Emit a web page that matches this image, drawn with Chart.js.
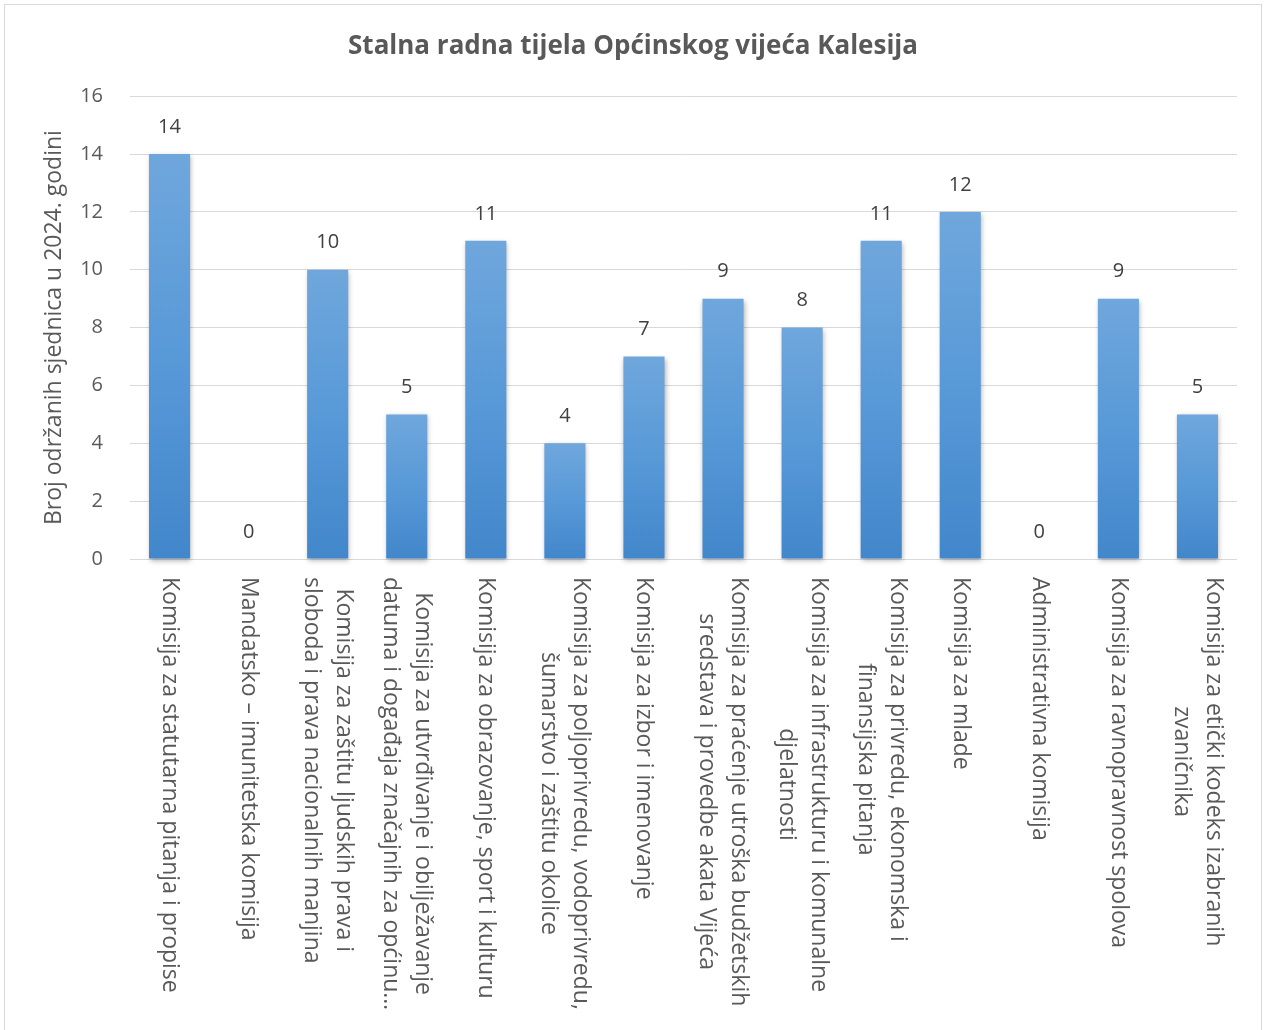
<!DOCTYPE html>
<html>
<head>
<meta charset="utf-8">
<title>Stalna radna tijela</title>
<script src="https://cdn.jsdelivr.net/npm/chart.js@4.4.1/dist/chart.umd.min.js"></script>
<style>
  body { margin: 0; background: #fff; }
  canvas { display: block; }
</style>
</head>
<body>
<canvas id="tijela-chart" width="1266" height="1030"></canvas>
<script>
var categories = [
    ['Komisija za statutarna pitanja i propise'],
    ['Mandatsko – imunitetska komisija'],
    ['Komisija za zaštitu ljudskih prava i', 'sloboda i prava nacionalnih manjina'],
    ['Komisija za utvrđivanje i obilježavanje', 'datuma i događaja značajnih za općinu…'],
    ['Komisija za obrazovanje, sport i kulturu'],
    ['Komisija za poljoprivredu, vodoprivredu,', 'šumarstvo i zaštitu okolice'],
    ['Komisija za izbor i imenovanje'],
    ['Komisija za praćenje utroška budžetskih', 'sredstava i provedbe akata Vijeća'],
    ['Komisija za infrastrukturu i komunalne', 'djelatnosti'],
    ['Komisija za privredu, ekonomska i', 'finansijska pitanja'],
    ['Komisija za mlade'],
    ['Administrativna komisija'],
    ['Komisija za ravnopravnost spolova'],
    ['Komisija za etički kodeks izabranih', 'zvaničnika']
];
var sjednice = [14, 0, 10, 5, 11, 4, 7, 9, 8, 11, 12, 0, 9, 5];
var yTicks = [0, 2, 4, 6, 8, 10, 12, 14, 16];

var chartTitle = 'Stalna radna tijela Općinskog vijeća Kalesija';
var yTitle = 'Broj održanih sjednica u 2024. godini';

var fontFamily = '"Open Sans", sans-serif';
var textGray = '#595959';

// outer frame like the excel chart area
var framePlugin = {
    id: 'frame',
    beforeDraw: function (chart) {
        var ctx = chart.ctx;
        ctx.save();
        ctx.fillStyle = '#ffffff';
        ctx.fillRect(0, 0, chart.width, chart.height);
        ctx.strokeStyle = '#d9d9d9';
        ctx.lineWidth = 1;
        ctx.strokeRect(4.5, 4.5, chart.width - 9, chart.height + 10);
        ctx.restore();
    }
};

// soft shadow under the bars
var shadowPlugin = {
    id: 'barShadow',
    beforeDatasetsDraw: function (chart) {
        var ctx = chart.ctx;
        ctx.save();
        ctx.shadowColor = 'rgba(0, 0, 0, 0.3)';
        ctx.shadowBlur = 5;
        ctx.shadowOffsetX = 1;
        ctx.shadowOffsetY = 2;
    },
    afterDatasetsDraw: function (chart) {
        chart.ctx.restore();
    }
};

// value labels above bars
var valuePlugin = {
    id: 'values',
    afterDatasetsDraw: function (chart) {
        var ctx = chart.ctx;
        var meta = chart.getDatasetMeta(0);
        ctx.save();
        ctx.font = '20px ' + fontFamily;
        ctx.fillStyle = '#404040';
        ctx.textAlign = 'center';
        ctx.textBaseline = 'middle';
        meta.data.forEach(function (bar, i) {
            ctx.fillText(String(sjednice[i]), bar.x, bar.y - 27);
        });
        ctx.restore();
    }
};

// category labels, rotated to read top-down
var xLabelPlugin = {
    id: 'xLabels',
    afterDraw: function (chart) {
        var ctx = chart.ctx;
        var xScale = chart.scales.x;
        var startY = chart.chartArea.bottom + 18;
        var lh = 32;
        ctx.save();
        ctx.font = '23px ' + fontFamily;
        ctx.fillStyle = textGray;
        ctx.textAlign = 'center';
        ctx.textBaseline = 'middle';
        categories.forEach(function (lines, i) {
            var x = xScale.getPixelForTick(i);
            var w = 0;
            lines.forEach(function (l) { w = Math.max(w, ctx.measureText(l).width); });
            ctx.save();
            ctx.translate(x, startY);
            ctx.rotate(Math.PI / 2);
            lines.forEach(function (l, j) {
                ctx.fillText(l, w / 2, (j - (lines.length - 1) / 2) * lh);
            });
            ctx.restore();
        });
        ctx.restore();
    }
};

function barGradient(c) {
    var chart = c.chart;
    var area = chart.chartArea;
    if (!area) return '#5b9bd5';
    var top = chart.scales.y.getPixelForValue(c.raw);
    if (area.bottom - top < 1) return '#4388cc';
    var g = chart.ctx.createLinearGradient(0, top, 0, area.bottom);
    g.addColorStop(0, '#6fa7dc');
    g.addColorStop(0.5, '#5899d8');
    g.addColorStop(1, '#4287cb');
    return g;
}

var ctx = document.getElementById('tijela-chart').getContext('2d');
var myChart = new Chart(ctx, {
    type: 'bar',
    data: {
        labels: categories,
        datasets: [{
            data: sjednice,
            backgroundColor: barGradient,
            borderWidth: 0,
            barPercentage: 0.52,
            categoryPercentage: 1,
            clip: false
        }]
    },
    options: {
        responsive: false,
        animation: false,
        layout: {
            padding: 0
        },
        plugins: {
            legend: { display: false },
            tooltip: { enabled: false },
            title: {
                display: true,
                text: chartTitle,
                color: textGray,
                font: { family: fontFamily, size: 26, weight: 'bold', lineHeight: 1.2 },
                padding: { top: 31, bottom: 34 }
            }
        },
        scales: {
            x: {
                grid: { display: false },
                border: { display: false },
                ticks: { display: false },
                afterFit: function (scale) { scale.height = 471; }
            },
            y: {
                min: 0,
                max: 16,
                afterBuildTicks: function (scale) {
                    scale.ticks = yTicks.map(function (v) { return { value: v }; });
                },
                grid: { color: '#d9d9d9', lineWidth: 1, drawTicks: false },
                border: { display: false },
                ticks: {
                    color: textGray,
                    padding: 27,
                    font: { family: fontFamily, size: 20 }
                },
                title: {
                    display: true,
                    text: yTitle,
                    color: textGray,
                    font: { family: fontFamily, size: 23, lineHeight: 1.2 },
                    padding: { top: 41, bottom: 0 }
                },
                afterFit: function (scale) { scale.width = 130; }
            },
            // empty right margin so the title stays centred on the whole chart
            yRight: {
                position: 'right',
                grid: { display: false },
                border: { display: false },
                ticks: { display: false },
                afterFit: function (scale) { scale.width = 29; }
            }
        }
    },
    plugins: [framePlugin, shadowPlugin, valuePlugin, xLabelPlugin]
});
</script>
</body>
</html>
